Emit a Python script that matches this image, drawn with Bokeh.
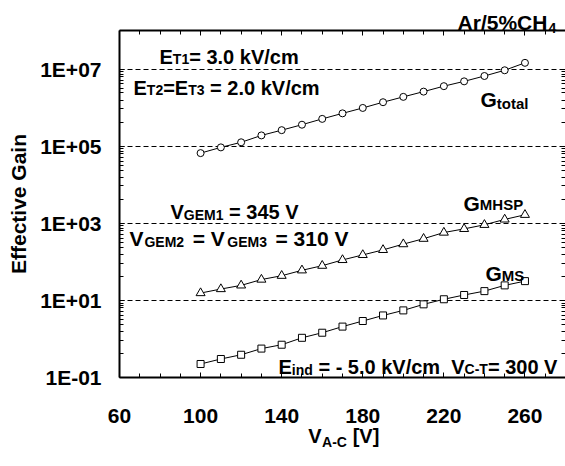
import math
from bokeh.plotting import figure
from bokeh.models import (FixedTicker, LinearAxis, LogAxis, Label, Range1d,
                          CustomJSTickFormatter)
from bokeh.embed import file_html
from bokeh.resources import INLINE

# ---------------- data ----------------
v_ac = [100, 110, 120, 130, 140, 150, 160, 170, 180, 190, 200, 210, 220, 230, 240, 250, 260]
g_total = [6.6e4, 9.3e4, 1.26e5, 1.9e5, 2.6e5, 3.6e5, 5.1e5, 7.1e5, 9.8e5, 1.38e6,
           1.9e6, 2.6e6, 3.6e6, 4.8e6, 6.6e6, 9.3e6, 1.45e7]
g_mhsp = [15.5, 19.7, 24.5, 34.7, 43.6, 60.3, 79.4, 112, 151, 204,
          288, 398, 575, 716, 912, 1259, 1660]
g_ms = [0.224, 0.302, 0.389, 0.562, 0.708, 1.07, 1.45, 2.09, 2.92, 4.07,
        5.5, 7.9, 10.7, 13.8, 17.4, 24.5, 31.6]

x_major = [60, 100, 140, 180, 220, 260]
x_minor = [70, 80, 90, 110, 120, 130, 150, 160, 170, 190, 200, 210, 230, 240, 250, 270, 280]
y_major = [1e-1, 1e1, 1e3, 1e5, 1e7]
y_minor_frac = [0.85, 0.74, 0.64, 0.52, 0.41, 0.32, 0.24, 0.155, 0.093, 0.041]
y_minor = [u * f for u in [1e1, 1e3, 1e5, 1e7] for f in y_minor_frac]

xlabel_main = ["V", "[V]"]
xlabel_sub = ["A-C"]
gas_main = ["Ar/5%CH"]
gas_sub = ["4"]

FONT = "Liberation Sans"
WID, HGT = 565, 458
L, FT, FB = 119, 30, 377          # frame left / top / bottom (px)
X_LO, X_HI = 60, 280
PXU = (WID - L) / (X_HI - X_LO)    # px per x unit

def dx(px):
    """page x pixel -> x data value (for placing text)"""
    return X_LO + (px - L) / PXU

p = figure(width=WID, height=HGT, y_axis_type="log",
           x_range=Range1d(X_LO, X_HI), y_range=Range1d(1e-1, 1e8),
           output_backend="svg", toolbar_location=None,
           min_border_left=L, min_border_right=0, min_border_top=FT,
           min_border_bottom=HGT - FB)
p.outline_line_color = None
p.background_fill_color = "white"
p.border_fill_color = "white"

xt = FixedTicker(ticks=x_major, minor_ticks=x_minor)
yt = FixedTicker(ticks=y_major, minor_ticks=y_minor)

yfmt = CustomJSTickFormatter(code="""
const e = Math.round(Math.log10(tick));
return "1E" + (e < 0 ? "-" : "+") + String(Math.abs(e)).padStart(2, "0");
""")
blank = CustomJSTickFormatter(code="return '';")

def style_axis(ax, ticker, fmt, line=True):
    ax.ticker = ticker
    ax.formatter = fmt
    ax.axis_line_width = 2
    ax.axis_line_color = "black" if line else None
    ax.major_tick_in = 5
    ax.major_tick_out = 0
    ax.minor_tick_in = 4
    ax.minor_tick_out = 0
    ax.major_tick_line_color = "black"
    ax.minor_tick_line_color = "black"
    ax.major_tick_line_width = 1
    ax.minor_tick_line_width = 1
    ax.major_label_text_font = FONT
    ax.major_label_text_font_style = "bold"
    ax.major_label_text_font_size = "21px"
    ax.major_label_text_color = "black"

xa = p.xaxis[0]
style_axis(xa, xt, xa.formatter)
xa.major_label_standoff = 31
ya = p.yaxis[0]
style_axis(ya, yt, yfmt)
ya.major_label_standoff = 18
ya.axis_label = "Effective Gain"
ya.axis_label_text_font = FONT
ya.axis_label_text_font_style = "bold"
ya.axis_label_text_font_size = "21px"
ya.axis_label_text_color = "black"
ya.axis_label_standoff = 7

ra = LogAxis()
style_axis(ra, yt, blank, line=False)
ra.major_label_text_font_size = "0px"
ra.major_label_standoff = 0
p.add_layout(ra, "right")

ta = LinearAxis()
style_axis(ta, xt, blank)
ta.major_label_text_font_size = "0px"
ta.major_label_standoff = 0
p.add_layout(ta, "above")

def text_axis(labels, centers_px, size, standoff, side):
    ax = LinearAxis(ticker=FixedTicker(ticks=[dx(c) for c in centers_px], minor_ticks=[]),
                    formatter=CustomJSTickFormatter(args=dict(labels=labels),
                                                    code="return labels[index];"))
    ax.axis_line_color = None
    ax.major_tick_in = 0
    ax.major_tick_out = 0
    ax.minor_tick_in = 0
    ax.minor_tick_out = 0
    ax.major_label_text_font = FONT
    ax.major_label_text_font_style = "bold"
    ax.major_label_text_font_size = f"{size}px"
    ax.major_label_text_color = "black"
    ax.major_label_standoff = standoff
    p.add_layout(ax, side)
    return ax

# axis title V_A-C [V] below the tick labels, gas mixture above the frame
text_axis(xlabel_main, [314.5, 365.5], 20, -1, "below")
text_axis(xlabel_sub, [334], 14, -16, "below")
text_axis(gas_main, [502], 21, -3, "above")
text_axis(gas_sub, [552], 14, -25, "above")

p.xgrid.visible = False
p.ygrid.ticker = yt
p.ygrid.grid_line_color = "black"
p.ygrid.grid_line_dash = "5 3"
p.ygrid.grid_line_width = 1

# ---------------- series ----------------
p.line(v_ac, g_total, line_color="black", line_width=1)
p.scatter(v_ac, g_total, marker="circle", size=7, fill_color="white",
          line_color="black", line_width=1)
p.line(v_ac, g_mhsp, line_color="black", line_width=1)
p.scatter(v_ac, g_mhsp, marker="triangle", size=9, fill_color="white",
          line_color="black", line_width=1)
p.line(v_ac, g_ms, line_color="black", line_width=1)
p.scatter(v_ac, g_ms, marker="square", size=7, fill_color="white",
          line_color="black", line_width=1)

# ---------------- in-frame rich text ----------------
AW = {' ': 278, '!': 333, '%': 889, '+': 584, '-': 333, '.': 278, '/': 278, '=': 584,
      '[': 333, ']': 333, 'A': 722, 'C': 722, 'E': 667, 'G': 778, 'H': 722, 'M': 833,
      'P': 667, 'S': 667, 'T': 611, 'V': 667, 'a': 556, 'c': 556, 'd': 611, 'e': 556,
      'f': 333, 'i': 278, 'k': 556, 'l': 278, 'm': 889, 'n': 611, 'o': 611, 'r': 389,
      't': 333, 'v': 556}

def tw(s, size):
    return sum(AW.get(c, 556) for c in s) / 1000.0 * size

def rich(segs, px, py, end=None):
    widths = [tw(t, s) for t, s, d in segs]
    total = sum(widths)
    k = 1.0
    if end is not None:
        k = max(1.0, (end - px - widths[-1]) / max(1e-6, total - widths[-1]))
    off = 0.0
    for (t, s, d), w in zip(segs, widths):
        lead = len(t) - len(t.lstrip(" "))
        txt = t.strip(" ")
        sx = px + off * k + tw(" " * lead, s)
        if txt:
            p.add_layout(Label(x=X_LO, y=1e8, x_offset=sx - L, y_offset=-(py + d - FT),
                               text=txt, text_font=FONT, text_font_style="bold",
                               text_font_size=f"{s}px", text_baseline="alphabetic",
                               text_align="left", text_color="black"))
        off += w

M, S = 20, 14
rich([("E", M, 0), ("T1", S, 2), ("= 3.0 kV/cm", M, 0)], 159, 56, end=297)
rich([("E", M, 0), ("T2", S, 2), ("=E", M, 0), ("T3", S, 2), (" = 2.0 kV/cm", M, 0)],
     133, 87, end=315)
rich([("V", M, 0), ("GEM1", S, 3), (" = 345 V", M, 0)], 170, 211, end=295)
rich([("V", 21, 0), ("GEM2", S, 3), (" = V", 21, 0), ("GEM3", S, 3), (" = 310 V", 21, 0)],
     129, 238, end=348)
rich([("G", 21, 0), ("total", 15, 4)], 480, 99)
rich([("G", 21, 0), ("MHSP", 15, 1)], 463, 203)
rich([("G", 21, 0), ("MS", 15, 2)], 485, 273)
rich([("E", M, 0), ("ind", S, 3), (" = - 5.0 kV/cm", M, 0), ("  V", M, 0),
      ("C-T", S, 2), ("= 300 V", M, 0)], 278, 366, end=555)

open("out.html", "w").write(file_html(p, INLINE))
